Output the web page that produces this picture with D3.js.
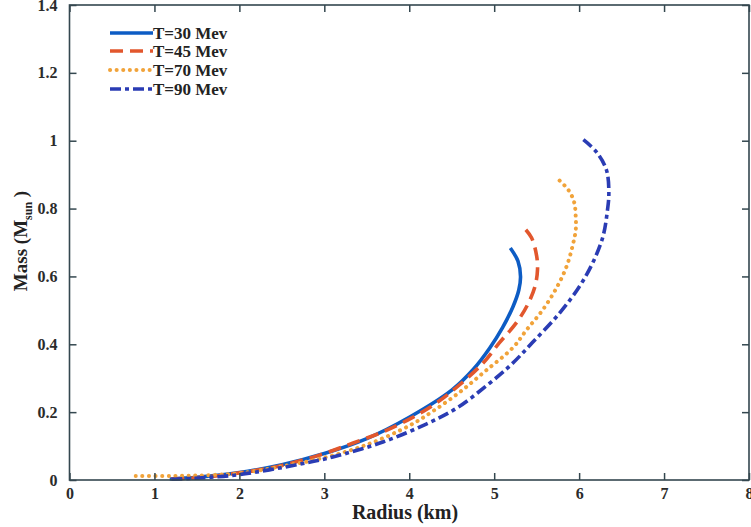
<!DOCTYPE html>
<html><head><meta charset="utf-8">
<script src="https://cdn.jsdelivr.net/npm/d3@7"></script>
<style>body{margin:0;background:#fff}svg{display:block}</style>
</head><body>
<svg id="c" width="751" height="527"></svg>
<script>
const seriesNames = ["T=30 Mev","T=45 Mev","T=70 Mev","T=90 Mev"];
const t30 = [[1.18,0.003],[1.5,0.008],[2.0,0.022],[2.5,0.045],[3.0,0.078],[3.5,0.122],[4.0,0.185],[4.5,0.265],[4.75,0.325],[4.95,0.39],[5.1,0.45],[5.22,0.51],[5.29,0.56],[5.31,0.6],[5.28,0.645],[5.19,0.684]];
const t45 = [[1.2,0.003],[1.6,0.009],[2.0,0.021],[2.5,0.043],[2.95,0.074],[3.34,0.109],[3.69,0.142],[4.03,0.183],[4.32,0.227],[4.59,0.28],[4.87,0.345],[5.06,0.404],[5.26,0.463],[5.39,0.515],[5.48,0.57],[5.51,0.62],[5.5,0.66],[5.44,0.714],[5.35,0.744]];
const t70 = [[0.78,0.012],[1.2,0.012],[1.6,0.014],[2.0,0.02],[2.5,0.04],[3.0,0.066],[3.5,0.104],[4.0,0.16],[4.28,0.203],[4.6,0.26],[4.9,0.322],[5.22,0.39],[5.38,0.442],[5.57,0.501],[5.74,0.569],[5.85,0.628],[5.92,0.687],[5.96,0.737],[5.96,0.776],[5.94,0.82],[5.87,0.856],[5.72,0.894]];
const t90 = [[1.2,0.002],[1.6,0.007],[2.0,0.016],[2.7,0.046],[3.1,0.068],[3.69,0.112],[4.2,0.165],[4.56,0.212],[4.91,0.278],[5.2,0.34],[5.45,0.405],[5.77,0.492],[6.0,0.569],[6.16,0.64],[6.28,0.717],[6.33,0.788],[6.35,0.847],[6.32,0.915],[6.2,0.968],[6.05,1.003]];
const xTicks = [0,1,2,3,4,5,6,7,8];
const yTicks = [0,0.2,0.4,0.6,0.8,1,1.2,1.4];

const allSeries = [t30,t45,t70,t90];
const colors = ["#0d5cc4","#e2572d","#f1a33a","#2a3cb4"];
const dashes = [null,"13,7","0.1,6.5","11,4,4,4"];

const svg = d3.select("#c");
const L=69.5, R=749, T=5, B=480;
const x = d3.scaleLinear().domain([0,8]).range([L,R]);
const y = d3.scaleLinear().domain([0,1.4]).range([B,T]);
const axisCol = "#34474f";
const fontF = "'Liberation Serif','Times New Roman',serif";

const line = d3.line().x(d=>x(d[0])).y(d=>y(d[1])).curve(d3.curveCatmullRom.alpha(0.5));
allSeries.forEach((s,i)=>{
  svg.append("path").attr("d",line(s)).attr("fill","none")
    .attr("stroke",colors[i]).attr("stroke-width",i===2?4:3.6)
    .attr("stroke-linecap",i===2?"round":"butt")
    .attr("stroke-dasharray",dashes[i]);
});

svg.append("rect").attr("x",L).attr("y",T).attr("width",R-L).attr("height",B-T)
  .attr("fill","none").attr("stroke",axisCol).attr("stroke-width",1.6);

const gx = svg.append("g").attr("transform",`translate(0,${B})`)
  .call(d3.axisBottom(x).tickValues(xTicks).tickSize(-7).tickPadding(8).tickFormat(d3.format("d")));
const gxt = svg.append("g").attr("transform",`translate(0,${T})`)
  .call(d3.axisTop(x).tickValues(xTicks).tickSize(-7).tickFormat(""));
const gy = svg.append("g").attr("transform",`translate(${L},0)`)
  .call(d3.axisLeft(y).tickValues(yTicks).tickSize(-7).tickPadding(12).tickFormat(d=>d===0?"0":d3.format("")(+d.toFixed(1))));
const gyr = svg.append("g").attr("transform",`translate(${R},0)`)
  .call(d3.axisRight(y).tickValues(yTicks).tickSize(-7).tickFormat(""));
[gx,gxt,gy,gyr].forEach(g=>{
  g.select(".domain").remove();
  g.selectAll(".tick line").attr("stroke",axisCol).attr("stroke-width",1.5);
  g.selectAll("text").attr("fill","#2b2b2b").style("font-family",fontF)
   .style("font-size","16px").style("font-weight","bold");
});

svg.append("text").attr("x",405).attr("y",519).attr("text-anchor","middle")
  .style("font-family",fontF).style("font-size","20px").style("font-weight","bold").attr("fill","#222")
  .text("Radius (km)");
const yt = svg.append("text").attr("transform","translate(27,241) rotate(-90)").attr("text-anchor","middle")
  .style("font-family",fontF).style("font-size","19px").style("font-weight","bold").attr("fill","#222");
yt.append("tspan").text("Mass (M");
yt.append("tspan").attr("dy",5).style("font-size","12px").text("sun");
yt.append("tspan").attr("dy",-5).text(" )");

const legY = [33,51,70,89];
seriesNames.forEach((n,i)=>{
  svg.append("line").attr("x1",110).attr("x2",153).attr("y1",legY[i]).attr("y2",legY[i])
    .attr("stroke",colors[i]).attr("stroke-width",i===2?4:3.6)
    .attr("stroke-linecap",i===2?"round":"butt").attr("stroke-dasharray",dashes[i]);
  svg.append("text").attr("x",153).attr("y",legY[i]+5.5)
    .style("font-family",fontF).style("font-size","17px").style("font-weight","bold").attr("fill","#222")
    .text(n);
});
</script>
</body></html>
